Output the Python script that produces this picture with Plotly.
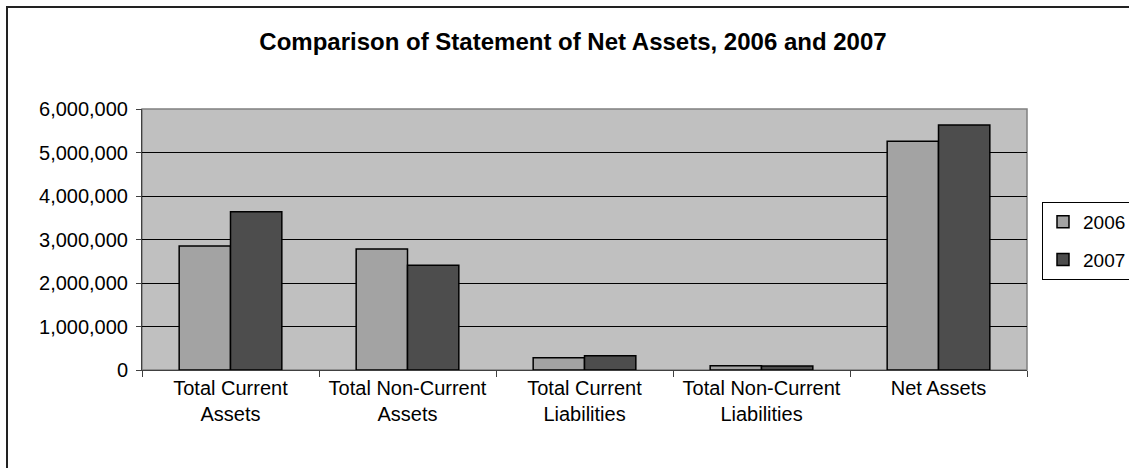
import plotly.graph_objects as go

categories = ["Total Current<br>Assets", "Total Non-Current<br>Assets", "Total Current<br>Liabilities",
              "Total Non-Current<br>Liabilities", "Net Assets"]
values_2006 = [2850000, 2780000, 280000, 95000, 5260000]
values_2007 = [3640000, 2410000, 330000, 90000, 5630000]
series_names = ["2006", "2007"]

W, H = 1129, 468
L, R, T, B = 142, 102, 109, 98
pw, ph = W - L - R, H - T - B

def px2paper_x(px):
    return (px - L) / pw

def px2paper_y(py):
    return (H - B - py) / ph

FONT = "Liberation Sans, Arial, sans-serif"

fig = go.Figure()
fig.add_trace(go.Bar(x=categories, y=values_2006, name=series_names[0], legendgroup="a",
                     marker=dict(color="#A3A3A3", line=dict(color="#000000", width=1.5))))
fig.add_trace(go.Bar(x=categories, y=values_2007, name=series_names[1], legendgroup="b",
                     marker=dict(color="#4D4D4D", line=dict(color="#000000", width=1.5))))

fig.update_layout(
    width=W, height=H,
    margin=dict(l=L, r=R, t=T, b=B, autoexpand=False),
    paper_bgcolor="white", plot_bgcolor="#C0C0C0",
    barmode="group", bargap=0.42, bargroupgap=0,
    font=dict(family=FONT, size=20, color="black"),
    title=dict(text="<b>Comparison of Statement of Net Assets, 2006 and 2007</b>",
               x=573 / W, xref="container", xanchor="center",
               y=1 - 42 / H, yref="container", yanchor="middle",
               font=dict(family=FONT, size=24, color="black")),
    showlegend=True,
    legend=dict(x=px2paper_x(1042), y=px2paper_y(202), xanchor="left", yanchor="top",
                bgcolor="white", bordercolor="black", borderwidth=1,
                font=dict(family=FONT, size=19), tracegroupgap=10,
                traceorder="grouped", itemwidth=30),
    shapes=[
        dict(type="rect", xref="paper", yref="paper", x0=0, x1=1, y0=0, y1=1,
             line=dict(color="#808080", width=1.5), layer="below"),
        dict(type="rect", xref="paper", yref="paper",
             x0=px2paper_x(7), x1=px2paper_x(1140), y0=px2paper_y(480), y1=px2paper_y(7),
             line=dict(color="#222222", width=2), layer="below"),
    ],
)
fig.update_xaxes(type="category", tickson="boundaries", ticks="outside", ticklen=6,
                 tickcolor="#404040", showline=True, linecolor="#404040", linewidth=1,
                 showgrid=False, tickfont=dict(size=20))
fig.update_yaxes(range=[0, 6000000], dtick=1000000, tickformat=",", ticks="outside",
                 ticklen=5, tickcolor="#404040", showline=True, linecolor="#404040",
                 linewidth=1, showgrid=True, gridcolor="#000000", gridwidth=1,
                 zeroline=False, tickfont=dict(size=20), ticklabelstandoff=4)

fig.write_html("out.html")
